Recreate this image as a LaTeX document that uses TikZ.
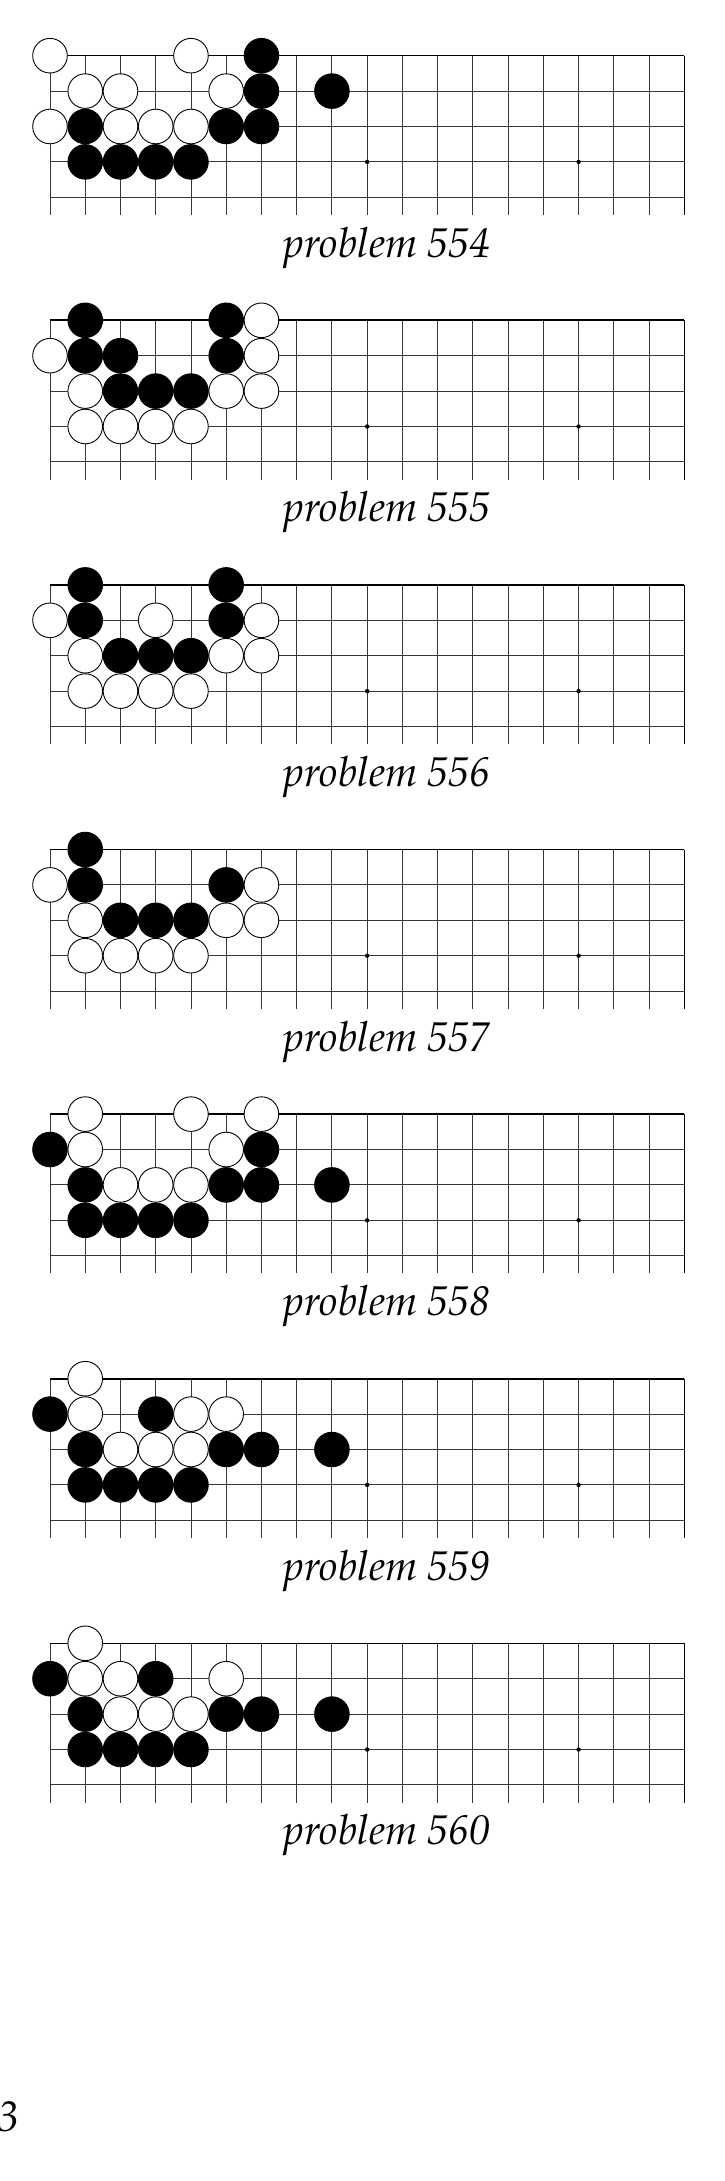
\documentclass[tikz,border=0pt]{standalone}
\usepackage{fontspec}
\setmainfont{TeX Gyre Pagella}
\tikzset{
  gridline/.style={draw=black!78, line width=0.9bp},
  edgeline/.style={draw=black, line width=1.6bp},
  whitestone/.style={draw=black, fill=white, line width=0.9bp},
  blackstone/.style={draw=black, fill=black, line width=0.9bp},
  caption/.style={anchor=base, inner sep=0pt, font=\fontsize{41.7}{48}\selectfont\itshape},
}
\newcommand{\goboard}[4]{%
  \begin{scope}[shift={(0,#1)}]
    \foreach \i in {0,...,18} \draw[gridline] (50+\i*35.24,0) -- (50+\i*35.24,159.3);
    \foreach \j in {1,...,4} \draw[gridline] (50,\j*35.4) -- (684.3,\j*35.4);
    \draw[edgeline] (50,0) -- (684.3,0);
    \draw[edgeline] (684.3,0) -- (684.3,159.3);
    \foreach \s in {3,9,15} \fill (50+\s*35.24,106.2) circle[radius=2.2bp];
    \foreach \c/\r in {#3} \draw[whitestone] (50+\c*35.24,\r*35.4) circle[radius=17.3bp];
    \foreach \c/\r in {#4} \draw[blackstone] (50+\c*35.24,\r*35.4) circle[radius=17.3bp];
    \node[caption] (cap#2) at (387,201.5) {problem #2};
  \end{scope}}
\begin{document}
\begin{tikzpicture}[x=1bp,y=-1bp]
\useasboundingbox[fill=white] (0,0) rectangle (725,2181);
% 554
\goboard{55.7}{554}{0/0,4/0,1/1,2/1,5/1,0/2,2/2,3/2,4/2}{6/0,6/1,8/1,1/2,5/2,6/2,1/3,2/3,3/3,4/3}
% 555
\goboard{320.3}{555}{6/0,0/1,6/1,1/2,5/2,6/2,1/3,2/3,3/3,4/3}{1/0,5/0,1/1,2/1,5/1,2/2,3/2,4/2}
% 556
\goboard{584.9}{556}{0/1,3/1,6/1,1/2,5/2,6/2,1/3,2/3,3/3,4/3}{1/0,5/0,1/1,5/1,2/2,3/2,4/2}
% 557
\goboard{849.5}{557}{0/1,6/1,1/2,5/2,6/2,1/3,2/3,3/3,4/3}{1/0,1/1,5/1,2/2,3/2,4/2}
% 558
\goboard{1114.1}{558}{1/0,4/0,6/0,1/1,5/1,2/2,3/2,4/2}{0/1,6/1,1/2,5/2,6/2,8/2,1/3,2/3,3/3,4/3}
% 559
\goboard{1378.7}{559}{1/0,1/1,4/1,5/1,2/2,3/2,4/2}{0/1,3/1,1/2,5/2,6/2,8/2,1/3,2/3,3/3,4/3}
% 560
\goboard{1643.3}{560}{1/0,1/1,2/1,5/1,2/2,3/2,4/2}{0/1,3/1,1/2,5/2,6/2,8/2,1/3,2/3,3/3,4/3}
\node[anchor=base east, inner sep=0pt, font=\fontsize{43}{50}\selectfont\itshape] (pg) at (19,2131.7) {3};
\end{tikzpicture}
\end{document}
